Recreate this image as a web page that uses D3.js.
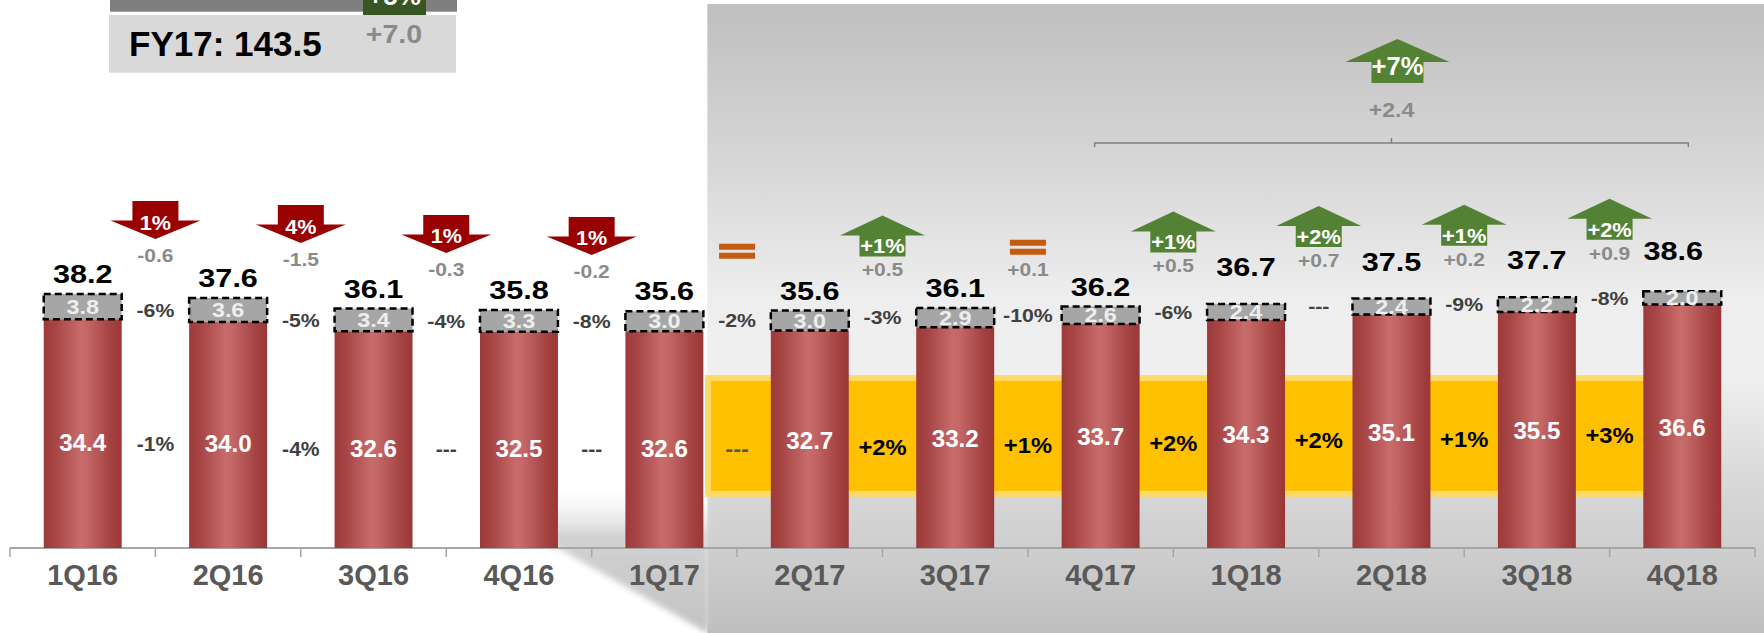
<!doctype html>
<html lang="en">
<head>
<meta charset="UTF-8">
<title>Quarterly volume</title>
<style>
  body { margin: 0; background: #fff; }
  svg { display: block; font-family: "Liberation Sans", Arial, Helvetica, sans-serif; font-weight: bold; }
</style>
<script src="https://cdn.jsdelivr.net/npm/d3@7"></script>
</head>
<body>
<svg id="chart" width="1764" height="633"></svg>
<script>
// ---- data ----
var quarters = ['1Q16', '2Q16', '3Q16', '4Q16', '1Q17', '2Q17', '3Q17', '4Q17', '1Q18', '2Q18', '3Q18', '4Q18'];
var baseVals = [34.4, 34.0, 32.6, 32.5, 32.6, 32.7, 33.2, 33.7, 34.3, 35.1, 35.5, 36.6];
var topVals  = [3.8, 3.6, 3.4, 3.3, 3.0, 3.0, 2.9, 2.6, 2.4, 2.4, 2.2, 2.0];
var totals   = [38.2, 37.6, 36.1, 35.8, 35.6, 35.6, 36.1, 36.2, 36.7, 37.5, 37.7, 38.6];
// changes between quarter k-1 and k (k = 1..11)
var topPct     = ['-6%', '-5%', '-4%', '-8%', '-2%', '-3%', '-10%', '-6%', '---', '-9%', '-8%'];
var basePct    = ['-1%', '-4%', '---', '---', '---', '+2%', '+1%', '+2%', '+2%', '+1%', '+3%'];
var totalPct   = ['1%', '4%', '1%', '1%', '=', '+1%', '=', '+1%', '+2%', '+1%', '+2%'];
var totalDelta = ['-0.6', '-1.5', '-0.3', '-0.2', '', '+0.5', '+0.1', '+0.5', '+0.7', '+0.2', '+0.9'];

var svg = d3.select('#chart'),
    W = +svg.attr('width'),
    H = +svg.attr('height');

var x = d3.scaleBand().domain(quarters).range([10, 1755]).paddingInner(0.464).paddingOuter(0.232);
var y = d3.scaleLinear().domain([0, 82.4]).range([548, 0]);
var bw = x.bandwidth(), step = x.step();

function cx(i) { return x(quarters[i]) + bw / 2; }
function edge(k) { return x.range()[0] + k * step; }

// text with a slight horizontal stretch, positioned by the middle of its cap height
function label(px, cy, s, size, fill, sx) {
  return svg.append('text')
    .attr('transform', 'translate(' + px + ',' + (cy + size * 0.36) + ') scale(' + (sx || 1) + ',1)')
    .attr('text-anchor', 'middle')
    .attr('font-size', size)
    .attr('fill', fill)
    .text(s);
}

// ---- defs ----
var defs = svg.append('defs');
var red = defs.append('linearGradient').attr('id', 'redGrad').attr('x1', 0).attr('x2', 1).attr('y1', 0).attr('y2', 0);
[[0, '#9d3939'], [0.15, '#a74545'], [0.47, '#c86b6b'], [0.55, '#c56767'], [0.85, '#a54343'], [1, '#9b3636']]
  .forEach(function(s) { red.append('stop').attr('offset', s[0]).attr('stop-color', s[1]); });

var pan = defs.append('linearGradient').attr('id', 'panGrad').attr('x1', 0).attr('x2', 0).attr('y1', 0).attr('y2', 1);
[[0, '#bfbfbf'], [0.28, '#d9d9d9'], [0.47, '#eeeeee'], [0.59, '#efefef'], [0.78, '#d6d6d6'], [0.87, '#cecece'], [1, '#bfbfbf']]
  .forEach(function(s) { pan.append('stop').attr('offset', s[0]).attr('stop-color', s[1]); });

var shd = defs.append('linearGradient').attr('id', 'shdGrad').attr('x1', 0).attr('x2', 0).attr('y1', 0).attr('y2', 1);
[[0, '#ffffff', 0], [0.35, '#d2d2d2', 1], [1, '#c2c2c2', 1]]
  .forEach(function(s) { shd.append('stop').attr('offset', s[0]).attr('stop-color', s[1]).attr('stop-opacity', s[2]); });
defs.append('filter').attr('id', 'soft').append('feGaussianBlur').attr('stdDeviation', 3);

// ---- background panel for 2Q17 onwards ----
var panelX = x(quarters[4]) + bw + 4;
svg.append('rect')
  .attr('x', panelX).attr('y', 4)
  .attr('width', W - panelX).attr('height', H - 4)
  .attr('fill', 'url(#panGrad)');

var sL = x(quarters[3]) + bw;
svg.append('polygon')
  .attr('points', [[sL - 8, 484], [panelX + 2, 484], [panelX + 2, H], [panelX, H], [sL, y(0)], [sL - 8, y(0)]].join(' '))
  .attr('fill', 'url(#shdGrad)')
  .attr('filter', 'url(#soft)');

// ---- yellow highlight band ----
var bandX0 = x(quarters[4]) + bw + 1.7,
    bandX1 = x(quarters[11]) + 6;
svg.append('rect')
  .attr('x', bandX0).attr('y', y(26))
  .attr('width', bandX1 - bandX0).attr('height', y(7.7) - y(26))
  .attr('fill', '#ffd966');
svg.append('rect')
  .attr('x', bandX0 + 6).attr('y', y(26) + 6)
  .attr('width', bandX1 - bandX0 - 6).attr('height', y(7.7) - y(26) - 12)
  .attr('fill', '#ffc000');

// ---- axis ----
svg.append('line')
  .attr('x1', edge(0)).attr('x2', x.range()[1])
  .attr('y1', y(0)).attr('y2', y(0))
  .attr('stroke', '#a6a6a6').attr('stroke-width', 2);
svg.append('g').selectAll('line')
  .data(d3.range(quarters.length + 1))
  .join('line')
  .attr('x1', edge).attr('x2', edge)
  .attr('y1', y(0)).attr('y2', y(0) + 9)
  .attr('stroke', '#a6a6a6').attr('stroke-width', 1.5);

var ax = svg.append('g')
  .attr('transform', 'translate(0,' + y(0) + ')')
  .call(d3.axisBottom(x).tickSize(0).tickPadding(16));
ax.select('.domain').remove();
ax.attr('font-size', 29).attr('font-family', null);
ax.selectAll('text').attr('fill', '#595959');

// ---- bars ----
svg.append('g').selectAll('rect')
  .data(baseVals)
  .join('rect')
  .attr('x', function(d, i) { return x(quarters[i]); })
  .attr('y', function(d) { return y(d); })
  .attr('width', bw)
  .attr('height', function(d) { return y(0) - y(d); })
  .attr('fill', 'url(#redGrad)');

svg.append('g').selectAll('rect')
  .data(topVals)
  .join('rect')
  .attr('x', function(d, i) { return x(quarters[i]); })
  .attr('y', function(d, i) { return y(baseVals[i] + d); })
  .attr('width', bw)
  .attr('height', function(d, i) { return y(baseVals[i]) - y(baseVals[i] + d); })
  .attr('fill', '#a6a6a6')
  .attr('stroke', '#000')
  .attr('stroke-width', 2.5)
  .attr('stroke-dasharray', '7,4');

// ---- bar labels ----
quarters.forEach(function(q, i) {
  var top = y(baseVals[i] + topVals[i]);
  var last = i === quarters.length - 1;
  label(cx(i) - (last ? 9 : 0), top - (i >= 8 ? (last ? 40 : 37) : 20), totals[i].toFixed(1), 25.5, '#000', 1.2);
  label(cx(i), (top + y(baseVals[i])) / 2, topVals[i].toFixed(1), 19.5, '#eeeeee', 1.2);
  label(cx(i), y(baseVals[i] / 2) + (i < 5 ? 9 : 1), baseVals[i].toFixed(1), 23, '#fff', 1.05);
});

// ---- change labels between quarters ----
for (var k = 1; k < quarters.length; k++) {
  var ex = edge(k);
  var boxMid = (y(baseVals[k] + topVals[k]) + y(baseVals[k])) / 2;
  label(ex, boxMid, topPct[k - 1], 18.5, '#404040', 1.15);

  var inBand = ex > bandX0;
  var bp = basePct[k - 1];
  if (inBand) label(ex, y(baseVals[k] / 2) + 9, bp, 22, bp === '---' ? '#595959' : '#000', 1.08);
  else label(ex, y(baseVals[k] / 2) + 9, bp, 19.5, '#404040', 1.08);

  // arrow for the change in total
  var lab = y(Math.max(totals[k - 1], totals[k])) - 38;
  var pct = totalPct[k - 1], dl = totalDelta[k - 1];
  if (dl) label(ex, lab, dl, 17.5, '#8a8a8a', 1.2);

  if (pct === '=') {
    var ec = lab - 22;
    svg.append('rect').attr('x', ex - 18).attr('y', ec - 7.5).attr('width', 36).attr('height', 6).attr('fill', '#c55a11');
    svg.append('rect').attr('x', ex - 18).attr('y', ec + 1.5).attr('width', 36).attr('height', 6).attr('fill', '#c55a11');
  } else if (dl.charAt(0) === '-') {
    var tip = lab - 17, tp = tip - 38, hb = tip - 18.5;
    svg.append('polygon')
      .attr('points', [[ex - 23, tp], [ex + 23, tp], [ex + 23, hb], [ex + 45, hb], [ex, tip], [ex - 45, hb], [ex - 23, hb]].join(' '))
      .attr('fill', '#990000');
    label(ex, hb + 1.5, pct, 21, '#fff', 1.03);
  } else {
    var bot = lab - 13.5, ut = bot - 41, uh = ut + 20;
    svg.append('polygon')
      .attr('points', [[ex, ut], [ex + 42.5, uh], [ex + 23, uh], [ex + 23, bot], [ex - 23, bot], [ex - 23, uh], [ex - 42.5, uh]].join(' '))
      .attr('fill', '#548235');
    label(ex, (uh + bot) / 2 + 0.5, pct, 19.5, '#fff', 1.12);
  }
}

// ---- 4Q17 -> 4Q18 bracket ----
var bx0 = cx(7) - 6, bx1 = cx(11) + 6, bmid = (cx(7) + cx(11)) / 2, by = 143;
svg.append('path')
  .attr('d', 'M' + bx0 + ',' + (by + 4) + 'V' + by + 'H' + bx1 + 'V' + (by + 4) + 'M' + bmid + ',' + by + 'V' + (by - 5))
  .attr('fill', 'none').attr('stroke', '#7f7f7f').attr('stroke-width', 1.5);
var yoy = totals[11] - totals[7];
label(bmid, 109, '+' + yoy.toFixed(1), 21, '#8a8a8a', 1.1);
svg.append('polygon')
  .attr('points', [[bmid + 6, 39], [bmid + 58, 62], [bmid + 32, 62], [bmid + 32, 83], [bmid - 20, 83], [bmid - 20, 62], [bmid - 46, 62]].join(' '))
  .attr('fill', '#548235');
label(bmid + 6, 66, '+' + Math.round(yoy / totals[7] * 100) + '%', 25.5, '#fff', 1);

// ---- fiscal year box (top left) ----
var fy17 = d3.sum(totals.slice(4, 8)), fy18 = d3.sum(totals.slice(8, 12));
svg.append('rect').attr('x', 110).attr('y', 0).attr('width', 347).attr('height', 11.7).attr('fill', '#7f7f7f');
svg.append('rect').attr('x', 109).attr('y', 15).attr('width', 347).attr('height', 57.7).attr('fill', '#d9d9d9');
svg.append('rect').attr('x', 363).attr('y', 0).attr('width', 63).attr('height', 15).attr('fill', '#375623');
svg.append('text').attr('x', 394.5).attr('y', 5).attr('text-anchor', 'middle')
  .attr('font-size', 26).attr('fill', '#fff')
  .text('+' + Math.round((fy18 - fy17) / fy17 * 100) + '%');
svg.append('text').attr('x', 129).attr('y', 56)
  .attr('font-size', 35).attr('fill', '#000')
  .text('FY17: ' + fy17.toFixed(1));
label(394, 34.2, '+' + (fy18 - fy17).toFixed(1), 25.5, '#8a8a8a', 1.12);
</script>
</body>
</html>
